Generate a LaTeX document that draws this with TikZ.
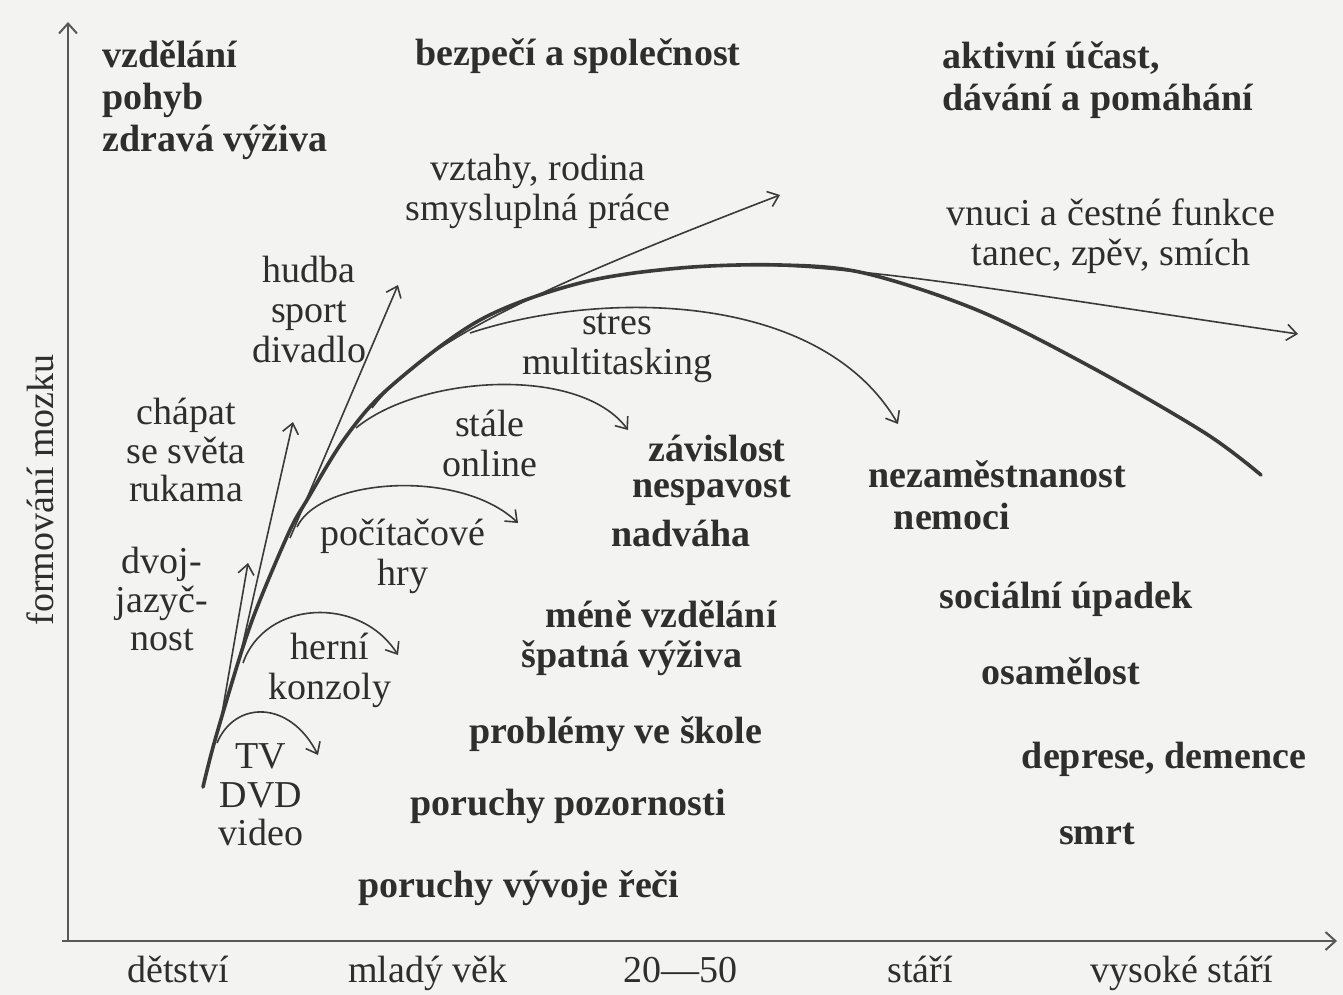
\documentclass[tikz,border=0pt]{standalone}
\usepackage{fontspec}
\setmainfont{Liberation Serif}
\usetikzlibrary{arrows.meta}
\definecolor{paper}{HTML}{F3F3F1}
\definecolor{ink}{HTML}{2E2E2E}
\definecolor{linec}{HTML}{3A3A3A}
\begin{document}
\begin{tikzpicture}[x=0.5pt,y=-0.5pt,
  bl/.style={font=\fontsize{19}{21}\selectfont\bfseries, text=ink, inner sep=0pt, align=center},
  rg/.style={font=\fontsize{19}{20}\selectfont, text=ink, inner sep=0pt, align=center},
  rgt/.style={font=\fontsize{19}{19.2}\selectfont, text=ink, inner sep=0pt, align=center},
  axisline/.style={draw=linec!85, line width=1pt, -{Straight Barb[length=5pt,width=9pt]}},
  branch/.style={draw=linec, line width=0.8pt, -{Straight Barb[length=5pt,width=8pt]}},
  maincurve/.style={draw=linec, line width=1.8pt, line cap=round}]
\fill[paper] (0,0) rectangle (1343,995);
\useasboundingbox (0,0) rectangle (1343,995);

% axes
\coordinate (ybot) at (68,941);
\coordinate (ytop) at (68,22);
\coordinate (xstart) at (62,941);
\coordinate (xend) at (1337,941);
\draw[axisline] (ybot) -- (ytop);
\draw[axisline] (xstart) -- (xend);

\node[rg, rotate=90] (ylab) at (40,490) {formování mozku};

% x labels
\node[rg, anchor=base] (x1) at (178,982) {dětství};
\node[rg, anchor=base] (x2) at (428,982) {mladý věk};
\node[rg, anchor=base] (x3) at (680,982) {20—50};
\node[rg, anchor=base] (x4) at (920,982) {stáří};
\node[rg, anchor=base] (x5) at (1182,982) {vysoké stáří};

% main curve
\draw[maincurve] plot[smooth, tension=0.55] coordinates {(203,787) (215,740) (242,650) (260,600) (290,530) (307,500) (345,438) (390,387) (480,320) (580,283) (680,268) (780,265) (864,273) (977,310) (1091,367) (1205,433) (1261,475)};

% branch start / end coordinates
\coordinate (sTV) at (217,743);   \coordinate (eTV) at (318,755);
\coordinate (sDv) at (220,725);   \coordinate (eDv) at (248,563);
\coordinate (sHe) at (243,663);   \coordinate (eHe) at (398,655);
\coordinate (sCh) at (238,665);   \coordinate (eCh) at (293,422);
\coordinate (sPo) at (297,527);   \coordinate (ePo) at (518,523);
\coordinate (sHu) at (290,538);   \coordinate (eHu) at (398,285);
\coordinate (sSt) at (356,428);   \coordinate (eSt) at (628,430);
\coordinate (sVz) at (372,408);   \coordinate (eVz) at (780,195);
\coordinate (sSr) at (470,333);   \coordinate (eSr) at (898,424);
\coordinate (sVn) at (760,265);   \coordinate (eVn) at (1298,334);

\draw[branch] (sTV) .. controls (235,700) and (290,700) .. (eTV);
\draw[branch] (sDv) -- (eDv);
\draw[branch] (sHe) .. controls (265,600) and (360,595) .. (eHe);
\draw[branch] (sCh) -- (eCh);
\draw[branch] (sPo) .. controls (320,478) and (460,468) .. (ePo);
\draw[branch] (sHu) -- (eHu);
\draw[branch] (sSt) .. controls (420,375) and (580,365) .. (eSt);
\draw[branch] (sVz) .. controls (420,345) and (520,295) .. (eVz);
\draw[branch] (sSr) .. controls (600,290) and (820,290) .. (eSr);
\draw[branch] (sVn) .. controls (880,268) and (1050,298) .. (eVn);

% top labels
\node[bl, align=left, anchor=west] (t1) at (102,100) {vzdělání\\pohyb\\zdravá výživa};
\node[bl] (t2) at (578,56) {bezpečí a společnost};
\node[bl, align=left, anchor=west] (t3) at (942,80) {aktivní účast,\\dávání a pomáhání};

% branch labels
\node[rg] (l1) at (538,191) {vztahy, rodina\\smysluplná práce};
\node[rg] (l2) at (1111,236) {vnuci a čestné funkce\\tanec, zpěv, smích};
\node[rg] (l3) at (309,309) {hudba\\sport\\divadlo};
\node[rg] (l4) at (617,348) {stres\\multitasking};
\node[rgt] (l5) at (186,450) {chápat\\se světa\\rukama};
\node[rg] (l6) at (490,443) {stále\\online};
\node[rg] (l7) at (403,556) {počítačové\\hry};
\node[rgt] (l8) at (162,599) {dvoj-\\jazyč-\\nost};
\node[rg] (l9) at (330,670) {herní\\konzoly};
\node[rgt] (l10) at (261,795) {TV\\DVD\\video};

% consequence labels
\node[bl] (c1) at (717,448) {závislost};
\node[bl] (c2) at (712,491) {nespavost};
\node[bl] (c3) at (681,533) {nadváha};
\node[bl] (c4) at (997,474) {nezaměstnanost};
\node[bl] (c5) at (952,516) {nemoci};
\node[bl] (c6) at (661,614) {méně vzdělání};
\node[bl] (c7) at (632,658) {špatná výživa};
\node[bl] (c8) at (1066,599) {sociální úpadek};
\node[bl] (c9) at (1061,671) {osamělost};
\node[bl] (c10) at (616,734) {problémy ve škole};
\node[bl] (c11) at (1164,759) {deprese, demence};
\node[bl] (c12) at (568,806) {poruchy pozornosti};
\node[bl] (c13) at (1097,834) {smrt};
\node[bl] (c14) at (519,888) {poruchy vývoje řeči};
\end{tikzpicture}
\end{document}
